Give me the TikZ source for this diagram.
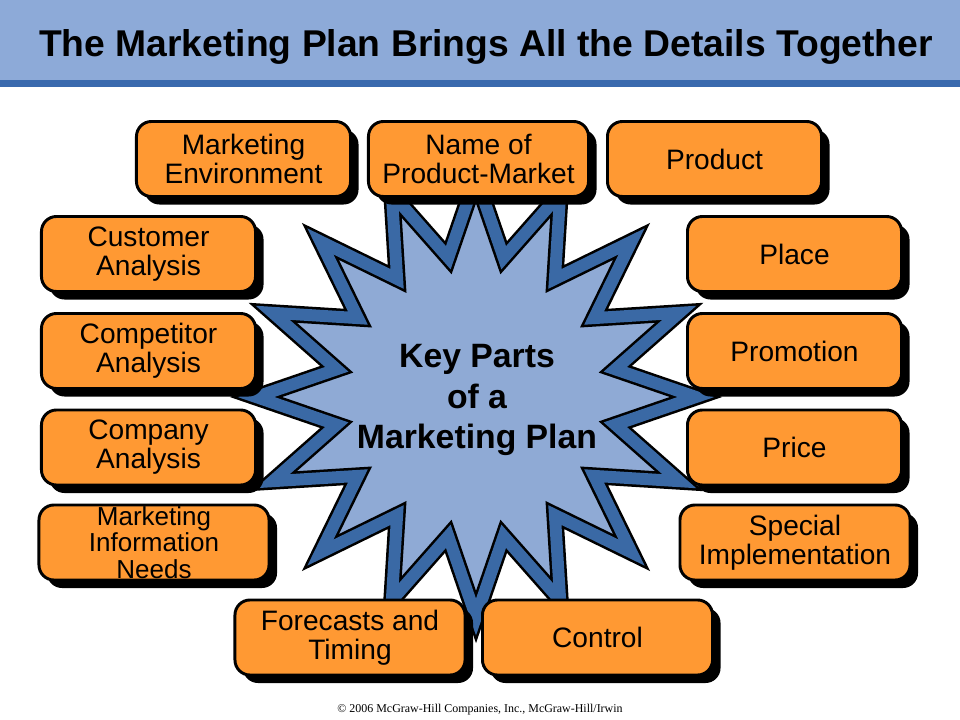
\documentclass[tikz,border=0pt]{standalone}
\usepackage{fontspec}
\setmainfont{Liberation Sans}
\newfontfamily\footfont{Liberation Serif}
\usetikzlibrary{shadows}

\definecolor{barblue}{RGB}{141,170,216}
\definecolor{stripeblue}{RGB}{58,106,174}
\definecolor{starfill}{RGB}{143,170,213}
\definecolor{starband}{RGB}{58,105,165}
\definecolor{partorange}{RGB}{255,153,51}

\tikzset{
  part/.style={draw, line width=2.1pt, fill=partorange, rounded corners=0.375cm,
    minimum width=5.35cm, minimum height=1.875cm, inner sep=0pt, align=center,
    font=\fontsize{20}{20.5}\selectfont,
    drop shadow={shadow xshift=0.2cm, shadow yshift=-0.2cm, fill=black, opacity=1}},
  widepart/.style={part, minimum width=5.75cm},
  tightpart/.style={font=\fontsize{18.5}{18.8}\selectfont},
  keyband/.style={draw=black, line width=1.8pt, double=starband, double distance=8.5pt,
    fill=starfill, line join=miter},
  keytext/.style={inner sep=0pt, align=center, font=\bfseries\fontsize{24}{29}\selectfont},
}

\begin{document}
\begin{tikzpicture}[x=0.025cm, y=-0.025cm]
\useasboundingbox (0,0) rectangle (960,720);

% title bar
\fill[barblue] (0,0) rectangle (960,80);
\fill[stripeblue] (0,80) rectangle (960,87);
\node[anchor=base, font=\bfseries\fontsize{26.5}{30}\selectfont] (title) at (486,57) {The Marketing Plan Brings All the Details Together};

% centre star, 16 points
\coordinate (hub) at (476,397);
\draw[keyband, shift={(hub)}] plot[samples at={0,...,31}]
  ({90+\x*11.25}:{ifthenelse(mod(\x,2)==0,220,142)}) -- cycle;
\node[keytext] (key) at (477,400) {Key Parts\\of a\\Marketing Plan};

% parts of the plan
\node[part] (env) at (243.5,159) {Marketing\\Environment};
\node[part, minimum width=5.5cm] (name) at (478.5,159) {Name of\\Product-Market};
\node[part] (prod) at (714.5,159) {Product};
\node[part] (cust) at (148.5,254) {Customer\\Analysis};
\node[part] (place) at (794.5,254) {Place};
\node[part] (comp) at (148.5,351) {Competitor\\Analysis};
\node[part] (promo) at (794.5,351) {Promotion};
\node[part] (cmpy) at (148.5,447.5) {Company\\Analysis};
\node[part] (price) at (794.5,447.5) {Price};
\node[widepart, tightpart] (info) at (154,542.5) {Marketing\\Information\\Needs};
\node[widepart] (spec) at (795,542.5) {Special\\Implementation};
\node[widepart] (fore) at (350,637.5) {Forecasts and\\Timing};
\node[widepart] (ctrl) at (597.5,637.5) {Control};

\node[anchor=base, font=\footfont\fontsize{8.5}{10}\selectfont] (foot) at (480,712) {© 2006 McGraw-Hill Companies, Inc., McGraw-Hill/Irwin};
\end{tikzpicture}
\end{document}
